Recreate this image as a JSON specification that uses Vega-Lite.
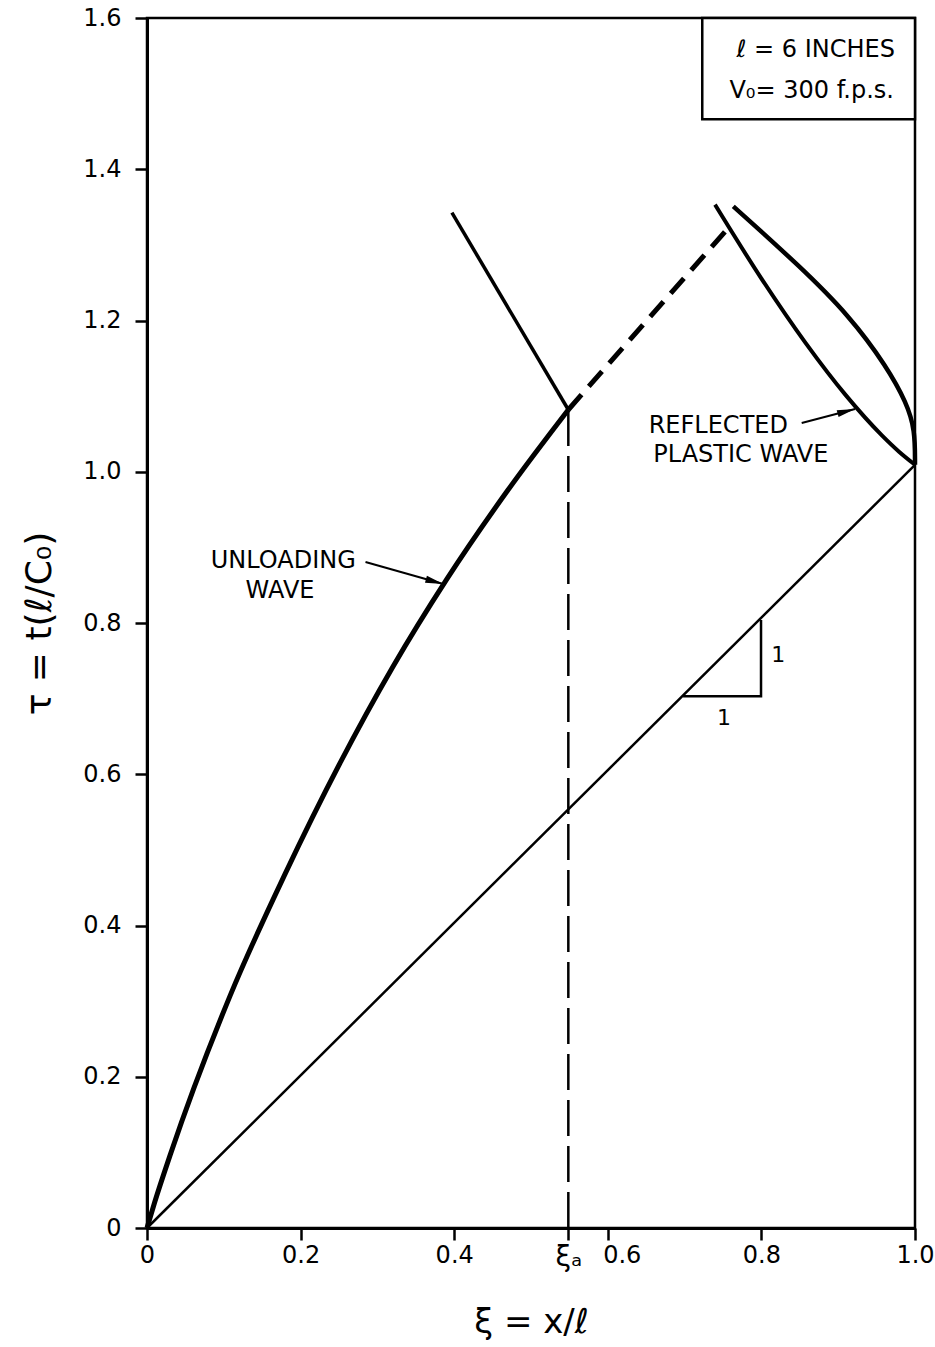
{
  "$schema": "https://vega.github.io/schema/vega-lite/v6.json",
  "width": 768,
  "height": 1210,
  "autosize": {"type": "none"},
  "padding": {"left": 147, "top": 18, "right": 20, "bottom": 119},
  "background": "white",
  "config": {
    "view": {"stroke": "black", "strokeWidth": 2.5},
    "font": "DejaVu Sans",
    "axis": {
      "labelFont": "DejaVu Sans",
      "labelFontSize": 24,
      "labelColor": "black",
      "labelFlush": false,
      "labelOverlap": false,
      "tickColor": "black",
      "tickWidth": 2.5,
      "tickSize": 12,
      "domainColor": "black",
      "domainWidth": 3,
      "grid": false,
      "titleFont": "DejaVu Sans",
      "titleColor": "black",
      "titleFontWeight": "normal"
    }
  },
  "datasets": {
    "curves": [
      {"s": "diag", "i": 0, "x": 0, "y": 0},
      {"s": "diag", "i": 1, "x": 1.0, "y": 1.009},
      {"s": "unload", "i": 0, "x": 0, "y": 0},
      {"s": "unload", "i": 1, "x": 0.01, "y": 0.034},
      {"s": "unload", "i": 2, "x": 0.03, "y": 0.096},
      {"s": "unload", "i": 3, "x": 0.108, "y": 0.3066},
      {"s": "unload", "i": 4, "x": 0.18, "y": 0.4686},
      {"s": "unload", "i": 5, "x": 0.2513, "y": 0.6148},
      {"s": "unload", "i": 6, "x": 0.32, "y": 0.7419},
      {"s": "unload", "i": 7, "x": 0.3902, "y": 0.8577},
      {"s": "unload", "i": 8, "x": 0.47, "y": 0.9758},
      {"s": "unload", "i": 9, "x": 0.5486, "y": 1.082},
      {"s": "up", "i": 0, "x": 0.5486, "y": 1.082},
      {"s": "up", "i": 1, "x": 0.397, "y": 1.3426},
      {"s": "dash", "i": 0, "x": 0.5486, "y": 1.082},
      {"s": "dash", "i": 1, "x": 0.7548, "y": 1.320},
      {"s": "vdash", "i": 0, "x": 0.5486, "y": 0},
      {"s": "vdash", "i": 1, "x": 0.5486, "y": 1.082},
      {"s": "inner", "i": 0, "x": 0.7396, "y": 1.3532},
      {"s": "inner", "i": 1, "x": 0.8009, "y": 1.2541},
      {"s": "inner", "i": 2, "x": 0.8577, "y": 1.1701},
      {"s": "inner", "i": 3, "x": 0.9098, "y": 1.1013},
      {"s": "inner", "i": 4, "x": 0.9572, "y": 1.0478},
      {"s": "inner", "i": 5, "x": 0.9792, "y": 1.0266},
      {"s": "inner", "i": 6, "x": 1.0, "y": 1.0093},
      {"s": "outer", "i": 0, "x": 0.7634, "y": 1.3509},
      {"s": "outer", "i": 1, "x": 0.8503, "y": 1.2716},
      {"s": "outer", "i": 2, "x": 0.9154, "y": 1.2054},
      {"s": "outer", "i": 3, "x": 0.9631, "y": 1.1393},
      {"s": "outer", "i": 4, "x": 0.9892, "y": 1.0909},
      {"s": "outer", "i": 5, "x": 1.0, "y": 1.0556},
      {"s": "outer", "i": 6, "x": 1.0, "y": 1.0093},
      {"s": "tri", "i": 0, "x": 0.698, "y": 0.703},
      {"s": "tri", "i": 1, "x": 0.7995, "y": 0.703},
      {"s": "tri", "i": 2, "x": 0.7995, "y": 0.804}
    ],
    "arrows": [
      {"a": "unl", "i": 0, "x": 0.2845, "y": 0.8806},
      {"a": "unl", "i": 1, "x": 0.3858, "y": 0.8515},
      {"a": "ref", "i": 0, "x": 0.8525, "y": 1.0644},
      {"a": "ref", "i": 1, "x": 0.9219, "y": 1.083}
    ],
    "notes": [
      {"t": "UNLOADING", "x": 0.1775, "y": 0.8814},
      {"t": "WAVE", "x": 0.1732, "y": 0.8417},
      {"t": "REFLECTED", "x": 0.7439, "y": 1.06},
      {"t": "PLASTIC WAVE", "x": 0.7732, "y": 1.0225},
      {"t": "ℓ = 6 INCHES", "x": 0.8708, "y": 1.5582},
      {"t": "V₀= 300 f.p.s.", "x": 0.8655, "y": 1.503}
    ],
    "ones": [
      {"t": "1", "x": 0.822, "y": 0.758},
      {"t": "1", "x": 0.7513, "y": 0.674}
    ],
    "box": [
      {"x": 0.723, "x2": 1.0, "y": 1.466, "y2": 1.6}
    ]
  },
  "encoding": {
    "x": {
      "field": "x",
      "type": "quantitative",
      "scale": {"domain": [0, 1], "nice": false, "zero": false},
      "axis": {
        "values": [0, 0.2, 0.4, 0.5486, 0.6, 0.8, 1.0],
        "labelExpr": "datum.value == 0 ? '0' : (datum.value > 0.54 && datum.value < 0.56) ? 'ξₐ' : format(datum.value, '.1f')",
        "labelOffset": {"condition": {"test": "datum.value == 0.6", "value": 14}, "value": 0},
        "labelFontSize": {"condition": {"test": "datum.value > 0.54 && datum.value < 0.56", "value": 28}, "value": 24},
        "labelPadding": 3,
        "title": "ξ = x/ℓ",
        "titleFontSize": 34,
        "titlePadding": 34
      }
    },
    "y": {
      "field": "y",
      "type": "quantitative",
      "scale": {"domain": [0, 1.6], "nice": false, "zero": false},
      "axis": {
        "values": [0, 0.2, 0.4, 0.6, 0.8, 1.0, 1.2, 1.4, 1.6],
        "labelExpr": "datum.value == 0 ? '0' : format(datum.value, '.1f')",
        "labelPadding": 14,
        "title": "τ = t(ℓ/C₀)",
        "titleFontSize": 36,
        "titlePadding": 24
      }
    }
  },
  "layer": [
    {
      "data": {"name": "curves"},
      "transform": [{"filter": "datum.s == 'diag'"}],
      "mark": {"type": "line", "color": "black", "strokeWidth": 2.5},
      "encoding": {"order": {"field": "i", "type": "quantitative"}}
    },
    {
      "data": {"name": "curves"},
      "transform": [{"filter": "datum.s == 'tri'"}],
      "mark": {"type": "line", "color": "black", "strokeWidth": 2.5},
      "encoding": {"order": {"field": "i", "type": "quantitative"}}
    },
    {
      "data": {"name": "curves"},
      "transform": [{"filter": "datum.s == 'unload'"}],
      "mark": {"type": "line", "color": "black", "strokeWidth": 5, "interpolate": "monotone"},
      "encoding": {"order": {"field": "i", "type": "quantitative"}}
    },
    {
      "data": {"name": "curves"},
      "transform": [{"filter": "datum.s == 'up'"}],
      "mark": {"type": "line", "color": "black", "strokeWidth": 3.5},
      "encoding": {"order": {"field": "i", "type": "quantitative"}}
    },
    {
      "data": {"name": "curves"},
      "transform": [{"filter": "datum.s == 'dash'"}],
      "mark": {"type": "line", "color": "black", "strokeWidth": 5, "strokeDash": [20, 11]},
      "encoding": {"order": {"field": "i", "type": "quantitative"}}
    },
    {
      "data": {"name": "curves"},
      "transform": [{"filter": "datum.s == 'vdash'"}],
      "mark": {"type": "line", "color": "black", "strokeWidth": 2.5, "strokeDash": [36, 10]},
      "encoding": {"order": {"field": "i", "type": "quantitative"}}
    },
    {
      "data": {"name": "curves"},
      "transform": [{"filter": "datum.s == 'inner'"}],
      "mark": {"type": "line", "color": "black", "strokeWidth": 4, "interpolate": "monotone"},
      "encoding": {"order": {"field": "i", "type": "quantitative"}}
    },
    {
      "data": {"name": "curves"},
      "transform": [{"filter": "datum.s == 'outer'"}],
      "mark": {"type": "line", "color": "black", "strokeWidth": 4.5, "interpolate": "basis"},
      "encoding": {"order": {"field": "i", "type": "quantitative"}}
    },
    {
      "data": {"name": "arrows"},
      "mark": {"type": "line", "color": "black", "strokeWidth": 2},
      "encoding": {
        "detail": {"field": "a"},
        "order": {"field": "i", "type": "quantitative"}
      }
    },
    {
      "data": {"name": "arrows"},
      "transform": [{"filter": "datum.a == 'unl' && datum.i == 1"}],
      "mark": {"type": "point", "filled": true, "color": "black", "opacity": 1, "shape": "M0,0L-2,-0.4L-2,0.4Z", "size": 324, "angle": 15.5}
    },
    {
      "data": {"name": "arrows"},
      "transform": [{"filter": "datum.a == 'ref' && datum.i == 1"}],
      "mark": {"type": "point", "filled": true, "color": "black", "opacity": 1, "shape": "M0,0L-2,-0.4L-2,0.4Z", "size": 324, "angle": 345}
    },
    {
      "data": {"name": "box"},
      "mark": {"type": "rect", "fill": "white", "stroke": "black", "strokeWidth": 2.5},
      "encoding": {
        "x2": {"field": "x2"},
        "y2": {"field": "y2"}
      }
    },
    {
      "data": {"name": "notes"},
      "mark": {"type": "text", "font": "DejaVu Sans", "fontSize": 24, "color": "black", "align": "center", "baseline": "middle"},
      "encoding": {"text": {"field": "t"}}
    },
    {
      "data": {"name": "ones"},
      "mark": {"type": "text", "font": "DejaVu Sans", "fontSize": 22, "color": "black", "align": "center", "baseline": "middle"},
      "encoding": {"text": {"field": "t"}}
    }
  ]
}
